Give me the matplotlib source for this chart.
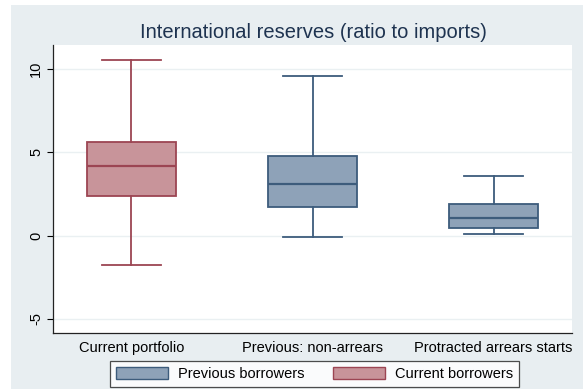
import matplotlib
matplotlib.use("Agg")
import matplotlib.pyplot as plt
from matplotlib.patches import Patch, Rectangle

plt.rcParams['font.family'] = ['Liberation Sans', 'DejaVu Sans']

groups = ["Current portfolio", "Previous: non-arrears", "Protracted arrears starts"]
whisker_low = [-1.75, -0.06, 0.12]
q1 = [2.37, 1.71, 0.44]
median = [4.19, 3.12, 1.07]
q3 = [5.64, 4.79, 1.87]
whisker_high = [10.56, 9.61, 3.56]
borrower = ["Current borrowers", "Previous borrowers", "Previous borrowers"]

fills = {"Current borrowers": "#c8949a", "Previous borrowers": "#8ea2b8"}
edges = {"Current borrowers": "#9c4553", "Previous borrowers": "#3d5c7c"}
panel = "#e8eef1"

fig = plt.figure(figsize=(5.83, 3.89), dpi=100)
fig.patch.set_facecolor("white")
fig.patches.append(Rectangle((11 / 583, 0), 1 - 11 / 583, 1 - 5 / 389,
                             transform=fig.transFigure, facecolor=panel,
                             edgecolor="none", zorder=-10))

ax = fig.add_axes([53 / 583, 1 - 333 / 389, (572 - 53) / 583, (333 - 45) / 389])
ax.set_facecolor("white")

for i in range(len(groups)):
    stats = [dict(whislo=whisker_low[i], q1=q1[i], med=median[i], q3=q3[i],
                  whishi=whisker_high[i], label=groups[i])]
    ec = edges[borrower[i]]
    ax.bxp(stats, positions=[i + 1], widths=0.495, showfliers=False,
           patch_artist=True,
           boxprops=dict(facecolor=fills[borrower[i]], edgecolor=ec, linewidth=1.3),
           medianprops=dict(color=ec, linewidth=1.6),
           whiskerprops=dict(color=ec, linewidth=1.3),
           capprops=dict(color=ec, linewidth=1.3),
           capwidths=0.33)

ax.set_xlim(0.567, 3.433)
ax.set_ylim(-5.85, 11.45)
ax.set_yticks([-5, 0, 5, 10])
ax.set_yticklabels(["-5", "0", "5", "10"], rotation=90, va="center", fontsize=10.5)
ax.set_xticks([1, 2, 3])
ax.set_xticklabels(groups, fontsize=10.5)
ax.tick_params(axis="x", length=0, pad=6)
ax.tick_params(axis="y", length=4, width=0.8, pad=3)
ax.yaxis.grid(True, color="#eaf0f2", linewidth=1.0)
ax.set_axisbelow(True)
for side in ["top", "right"]:
    ax.spines[side].set_visible(False)
for side in ["left", "bottom"]:
    ax.spines[side].set_color("#222222")
    ax.spines[side].set_linewidth(0.9)

fig.text(313 / 583, 1 - 33 / 389, "International reserves (ratio to imports)",
         ha="center", va="center", fontsize=14.5, color="#1e3350")

handles = [Patch(facecolor=fills["Previous borrowers"], edgecolor=edges["Previous borrowers"],
                 label="Previous borrowers"),
           Patch(facecolor=fills["Current borrowers"], edgecolor=edges["Current borrowers"],
                 label="Current borrowers")]
leg = fig.legend(handles=handles, loc="center", ncol=2,
                 bbox_to_anchor=(314.5 / 583, 1 - 374 / 389), fontsize=10.5,
                 frameon=True, fancybox=False, edgecolor="#222222",
                 handlelength=3.6, handleheight=0.9, columnspacing=1.9,
                 borderpad=0.4, handletextpad=0.7)
leg.get_frame().set_linewidth(0.9)
leg.get_frame().set_facecolor("white")

fig.savefig("out.png", dpi=100, facecolor=fig.get_facecolor())
